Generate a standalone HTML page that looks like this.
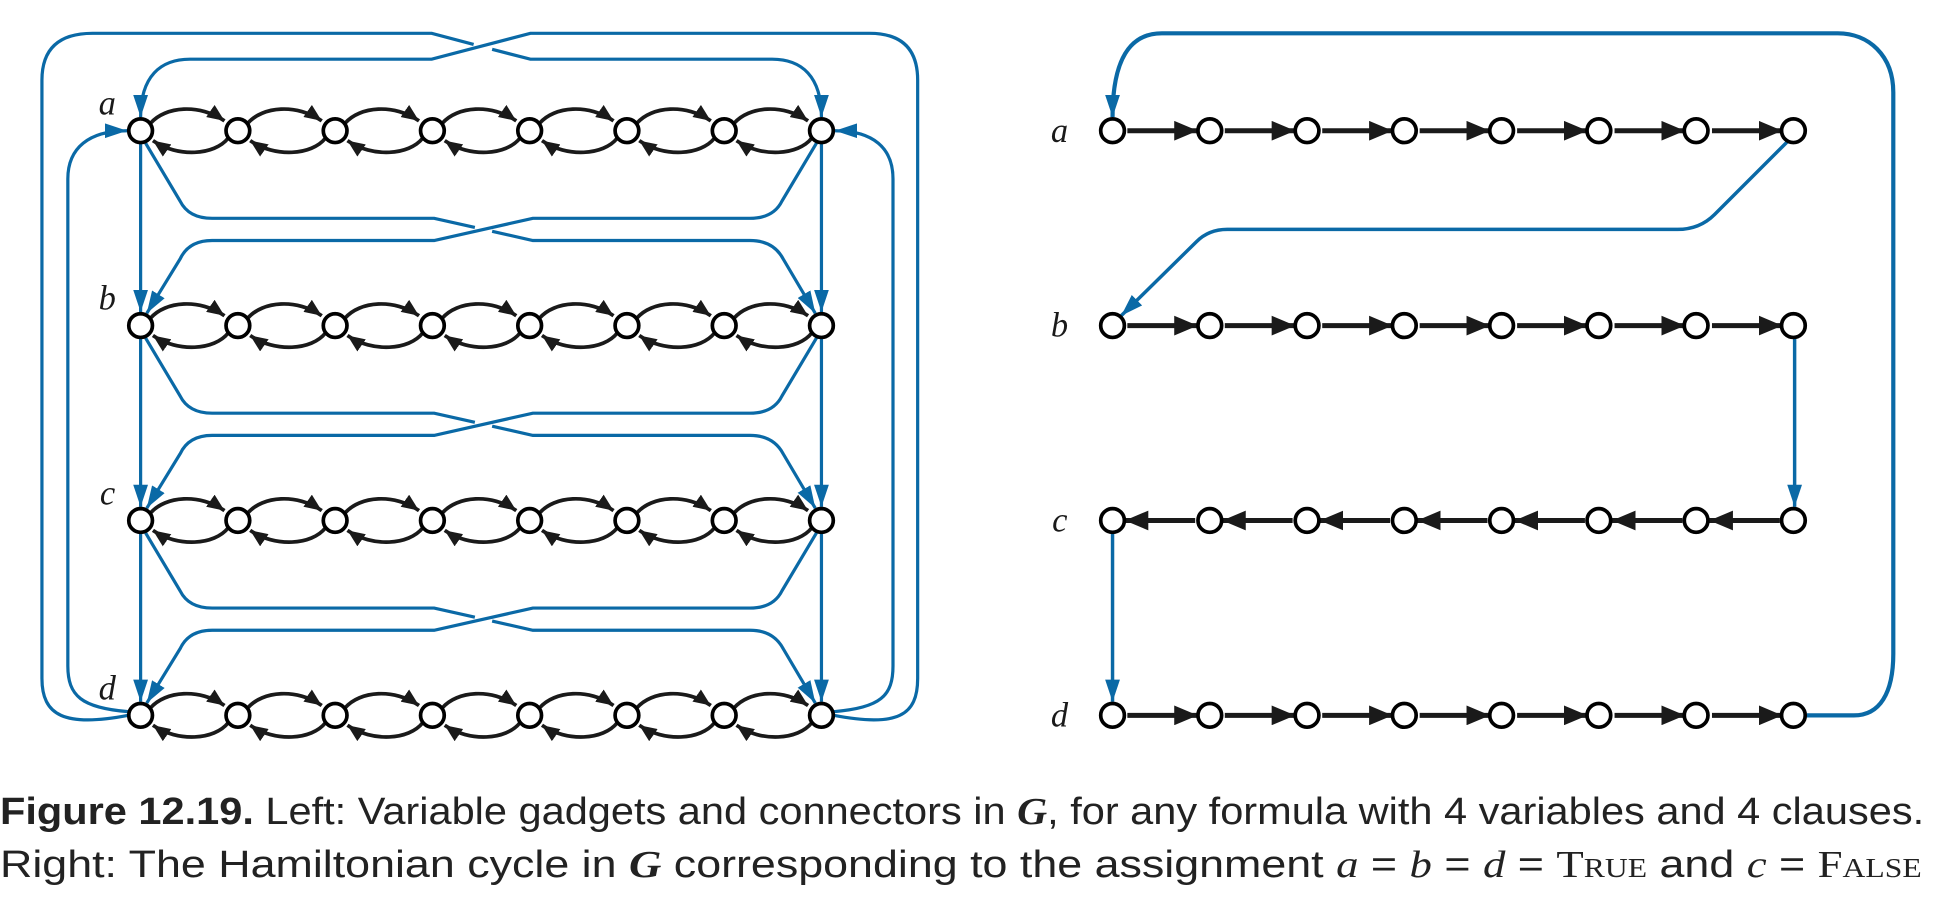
<!DOCTYPE html>
<html><head><meta charset="utf-8"><style>html,body{margin:0;padding:0;background:#fff}svg{display:block}</style></head>
<body>
<svg width="1934" height="900" viewBox="0 0 1568 729.7" preserveAspectRatio="none" xmlns="http://www.w3.org/2000/svg" xmlns:xlink="http://www.w3.org/1999/xlink">
<defs>
<marker id="mk" markerUnits="userSpaceOnUse" markerWidth="15" markerHeight="12" refX="14" refY="6" orient="auto"><path d="M0,0 L14,6 L0,12 z" fill="#1a1a1a"/></marker>
<marker id="mr" markerUnits="userSpaceOnUse" markerWidth="20" markerHeight="16" refX="19" refY="8" orient="auto"><path d="M0,0 L19,8 L0,16 z" fill="#1a1a1a"/></marker>
<marker id="mb" markerUnits="userSpaceOnUse" markerWidth="19" markerHeight="12" refX="18" refY="6" orient="auto"><path d="M0,0 L18,6 L0,12 z" fill="#0a69a6"/></marker>
<g id="gp" fill="none" stroke="#1a1a1a" stroke-width="3">
<path d="M8,-6 C20,-20 48,-22 68,-8" marker-end="url(#mk)"/>
<path d="M71,6 C60,20 30,22 10,8" marker-end="url(#mk)"/>
</g>
<g id="grow">
<use xlink:href="#gp" x="0"/><use xlink:href="#gp" x="78.86"/><use xlink:href="#gp" x="157.71"/><use xlink:href="#gp" x="236.57"/><use xlink:href="#gp" x="315.43"/><use xlink:href="#gp" x="394.29"/><use xlink:href="#gp" x="473.14"/>
</g>
<g id="rrow" stroke="#1a1a1a" stroke-width="4">
<path d="M12,0 H69" marker-end="url(#mr)"/><path d="M91,0 H148" marker-end="url(#mr)"/><path d="M170,0 H227" marker-end="url(#mr)"/><path d="M249,0 H306" marker-end="url(#mr)"/><path d="M328,0 H385" marker-end="url(#mr)"/><path d="M407,0 H464" marker-end="url(#mr)"/><path d="M486,0 H543" marker-end="url(#mr)"/>
</g>
<circle id="nd" r="9.6" fill="#fff" stroke="#000" stroke-width="3"/>
<g id="nrow">
<use xlink:href="#nd" x="0"/><use xlink:href="#nd" x="78.86"/><use xlink:href="#nd" x="157.71"/><use xlink:href="#nd" x="236.57"/><use xlink:href="#nd" x="315.43"/><use xlink:href="#nd" x="394.29"/><use xlink:href="#nd" x="473.14"/><use xlink:href="#nd" x="552"/>
</g>
<g id="conn" fill="none" stroke="#0a69a6" stroke-width="2.6">
<path d="M118,10 L146,57 Q153,71 172,71 H352 L385,78.4 M399,81.5 L432,89 H608 Q627,89 635,104 L661,148" marker-end="url(#mb)"/>
<path d="M662,10 L634,57 Q627,71 608,71 H432 L352,89 H172 Q153,89 146,104 L119,148" marker-end="url(#mb)"/>
<path d="M114,10 V147" marker-end="url(#mb)"/>
<path d="M666,10 V147" marker-end="url(#mb)"/>
</g>
</defs>

<use xlink:href="#grow" x="114" y="106"/>
<use xlink:href="#grow" x="114" y="264"/>
<use xlink:href="#grow" x="114" y="422"/>
<use xlink:href="#grow" x="114" y="580"/>
<use xlink:href="#conn" x="0" y="106"/>
<use xlink:href="#conn" x="0" y="264"/>
<use xlink:href="#conn" x="0" y="422"/>
<g fill="none" stroke="#0a69a6" stroke-width="2.6">
<path d="M104,580 C52,590 34,580 34,550 V65 Q34,27 75,27 H350 L384,36 M399,40 L430,48 H626 C650,48 666,62 666,95" marker-end="url(#mb)"/>
<path d="M676,580 C728,590 744,580 744,550 V65 Q744,27 705,27 H430 L350,48 H154 C130,48 114,62 114,95" marker-end="url(#mb)"/>
<path d="M104,577 C66,574 55,564 55,540 V145 C55,120 72,106 103,106" marker-end="url(#mb)"/>
<path d="M676,577 C714,574 724,564 724,540 V145 C724,120 708,106 677,106" marker-end="url(#mb)"/>
</g>
<use xlink:href="#nrow" x="114" y="106"/>
<use xlink:href="#nrow" x="114" y="264"/>
<use xlink:href="#nrow" x="114" y="422"/>
<use xlink:href="#nrow" x="114" y="580"/>
<g font-family="'Liberation Serif', serif" font-style="italic" font-size="28" fill="#1a1a1a">
<text x="80" y="93">a</text><text x="80" y="251">b</text><text x="81" y="409">c</text><text x="80" y="567">d</text>
<text x="852" y="115">a</text><text x="852" y="273">b</text><text x="853" y="431">c</text><text x="852" y="589">d</text>
</g>

<use xlink:href="#rrow" x="902" y="106"/>
<use xlink:href="#rrow" x="902" y="264"/>
<use xlink:href="#rrow" x="1455" y="422" transform="translate(2910,0) scale(-1,1)"/>
<use xlink:href="#rrow" x="902" y="580"/>
<g fill="none" stroke="#0a69a6" stroke-width="2.8">
<path d="M1465,580 H1503 C1524,580 1535,562 1535,530 V75 C1535,45 1515,27 1490,27 H942 C916,27 902,48 902,95" marker-end="url(#mb)" stroke-width="3.4"/>
<path d="M1450,114 L1390,174 Q1378,186 1360,186 H995 Q980,186 970,196 L909,256" marker-end="url(#mb)"/>
<path d="M1455,274 V411" marker-end="url(#mb)"/>
<path d="M902,432 V569" marker-end="url(#mb)"/>
</g>
<use xlink:href="#nrow" x="902" y="106"/>
<use xlink:href="#nrow" x="902" y="264"/>
<use xlink:href="#nrow" x="902" y="422"/>
<use xlink:href="#nrow" x="902" y="580"/>

<text x="0" y="668" font-family="'Liberation Sans', sans-serif" font-size="31" fill="#222" textLength="1560" lengthAdjust="spacingAndGlyphs"><tspan font-weight="bold">Figure 12.19.</tspan> Left: Variable gadgets and connectors in <tspan font-family="'Liberation Serif', serif" font-style="italic" font-weight="bold">G</tspan>, for any formula with 4 variables and 4 clauses.</text>
<text x="0" y="711" font-family="'Liberation Sans', sans-serif" font-size="31" fill="#222" textLength="1558" lengthAdjust="spacingAndGlyphs">Right: The Hamiltonian cycle in <tspan font-family="'Liberation Serif', serif" font-style="italic" font-weight="bold">G</tspan> corresponding to the assignment <tspan font-family="'Liberation Serif', serif" font-style="italic">a</tspan> = <tspan font-family="'Liberation Serif', serif" font-style="italic">b</tspan> = <tspan font-family="'Liberation Serif', serif" font-style="italic">d</tspan> = <tspan font-family="'Liberation Serif', serif" font-variant="small-caps">True</tspan> and <tspan font-family="'Liberation Serif', serif" font-style="italic">c</tspan> = <tspan font-family="'Liberation Serif', serif" font-variant="small-caps">False</tspan></text>
</svg>
</body></html>
